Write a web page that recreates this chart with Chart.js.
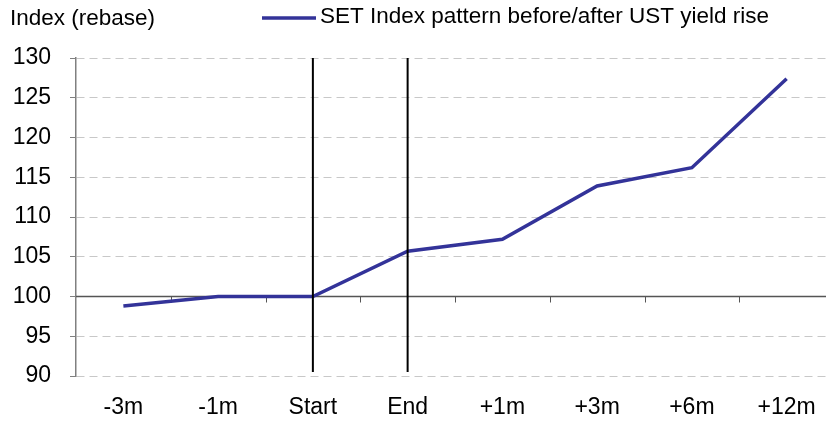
<!DOCTYPE html>
<html>
<head>
<meta charset="utf-8">
<script src="https://cdn.jsdelivr.net/npm/chart.js@4/dist/chart.umd.min.js"></script>
<style>
  html, body { margin: 0; padding: 0; background: #fff; overflow: hidden; }
  #wrap { position: relative; width: 834px; height: 422px; }
</style>
</head>
<body>
<div id="wrap"><canvas id="setChart" width="834" height="422"></canvas></div>
<script>
const categories = ['-3m', '-1m', 'Start', 'End', '+1m', '+3m', '+6m', '+12m'];
const setIndex = [98.8, 100.0, 100.0, 105.7, 107.2, 113.9, 116.2, 127.4];
const yTicks = [90, 95, 100, 105, 110, 115, 120, 125, 130];
const seriesName = 'SET Index pattern before/after UST yield rise';
const yTitle = 'Index (rebase)';
const markers = ['Start', 'End'];

const FONT = '"Liberation Sans", Arial, sans-serif';
const LINE_COLOR = '#333399';

// header text, 100 baseline with ticks, and the Start/End markers
const extras = {
    id: 'extras',
    beforeDatasetsDraw(chart) {
        const ctx = chart.ctx;
        const x = chart.scales.x;
        const y = chart.scales.y;
        const y100 = y.getPixelForValue(100);
        ctx.save();
        ctx.strokeStyle = '#555555';
        ctx.lineWidth = 1.5;
        ctx.beginPath();
        ctx.moveTo(chart.chartArea.left, y100);
        ctx.lineTo(chart.chartArea.right, y100);
        ctx.stroke();
        ctx.lineWidth = 1;
        for (let i = 0; i < categories.length - 1; i++) {
            const px = Math.round((x.getPixelForValue(i) + x.getPixelForValue(i + 1)) / 2) + 0.5;
            ctx.beginPath();
            ctx.moveTo(px, y100);
            ctx.lineTo(px, y100 + 6);
            ctx.stroke();
        }
        ctx.restore();
    },
    afterDatasetsDraw(chart) {
        const ctx = chart.ctx;
        const x = chart.scales.x;
        const area = chart.chartArea;
        ctx.save();
        ctx.strokeStyle = '#000000';
        ctx.lineWidth = 2;
        markers.forEach(m => {
            const px = x.getPixelForValue(categories.indexOf(m));
            ctx.beginPath();
            ctx.moveTo(px, area.top);
            ctx.lineTo(px, area.bottom - 4);
            ctx.stroke();
        });
        ctx.restore();
    },
    afterDraw(chart) {
        const ctx = chart.ctx;
        ctx.save();
        ctx.font = '22.5px ' + FONT;
        ctx.fillStyle = '#000000';
        ctx.textBaseline = 'middle';
        ctx.textAlign = 'left';
        ctx.fillText(yTitle, 10, 19);
        // legend
        ctx.strokeStyle = LINE_COLOR;
        ctx.lineWidth = 3.5;
        ctx.beginPath();
        ctx.moveTo(262, 18);
        ctx.lineTo(316, 18);
        ctx.stroke();
        ctx.fillText(seriesName, 320, 17);
        ctx.restore();
    }
};

new Chart(document.getElementById('setChart').getContext('2d'), {
    type: 'line',
    data: {
        labels: categories,
        datasets: [{
            label: seriesName,
            data: setIndex,
            borderColor: LINE_COLOR,
            backgroundColor: LINE_COLOR,
            borderWidth: 3.5,
            pointRadius: 0,
            tension: 0,
            fill: false
        }]
    },
    options: {
        responsive: false,
        animation: false,
        devicePixelRatio: 1,
        layout: { padding: { top: 58, left: 0, right: 0, bottom: 0 } },
        scales: {
            x: {
                type: 'category',
                offset: true,
                afterFit(scale) { scale.height = 46; },
                grid: { display: false, drawTicks: false },
                border: { display: false },
                ticks: {
                    color: '#000000',
                    padding: 18,
                    maxRotation: 0,
                    autoSkip: false,
                    font: { family: FONT, size: 23 }
                }
            },
            y: {
                min: 90,
                max: 130,
                afterFit(scale) { scale.width = 76; },
                afterBuildTicks(scale) {
                    scale.ticks = yTicks.map(v => ({ value: v }));
                },
                grid: {
                    color: ctx => ctx.tick && ctx.tick.value === 100 ? 'rgba(0,0,0,0)' : '#c8c8c8',
                    lineWidth: 1,
                    tickColor: '#808080',
                    tickLength: 6,
                    tickBorderDash: []
                },
                border: { display: true, color: '#808080', width: 1.5, dash: [8, 5] },
                ticks: {
                    color: '#000000',
                    padding: 19,
                    font: { family: FONT, size: 23 }
                }
            }
        },
        plugins: {
            legend: { display: false },
            tooltip: { enabled: false }
        }
    },
    plugins: [extras]
});
</script>
</body>
</html>
